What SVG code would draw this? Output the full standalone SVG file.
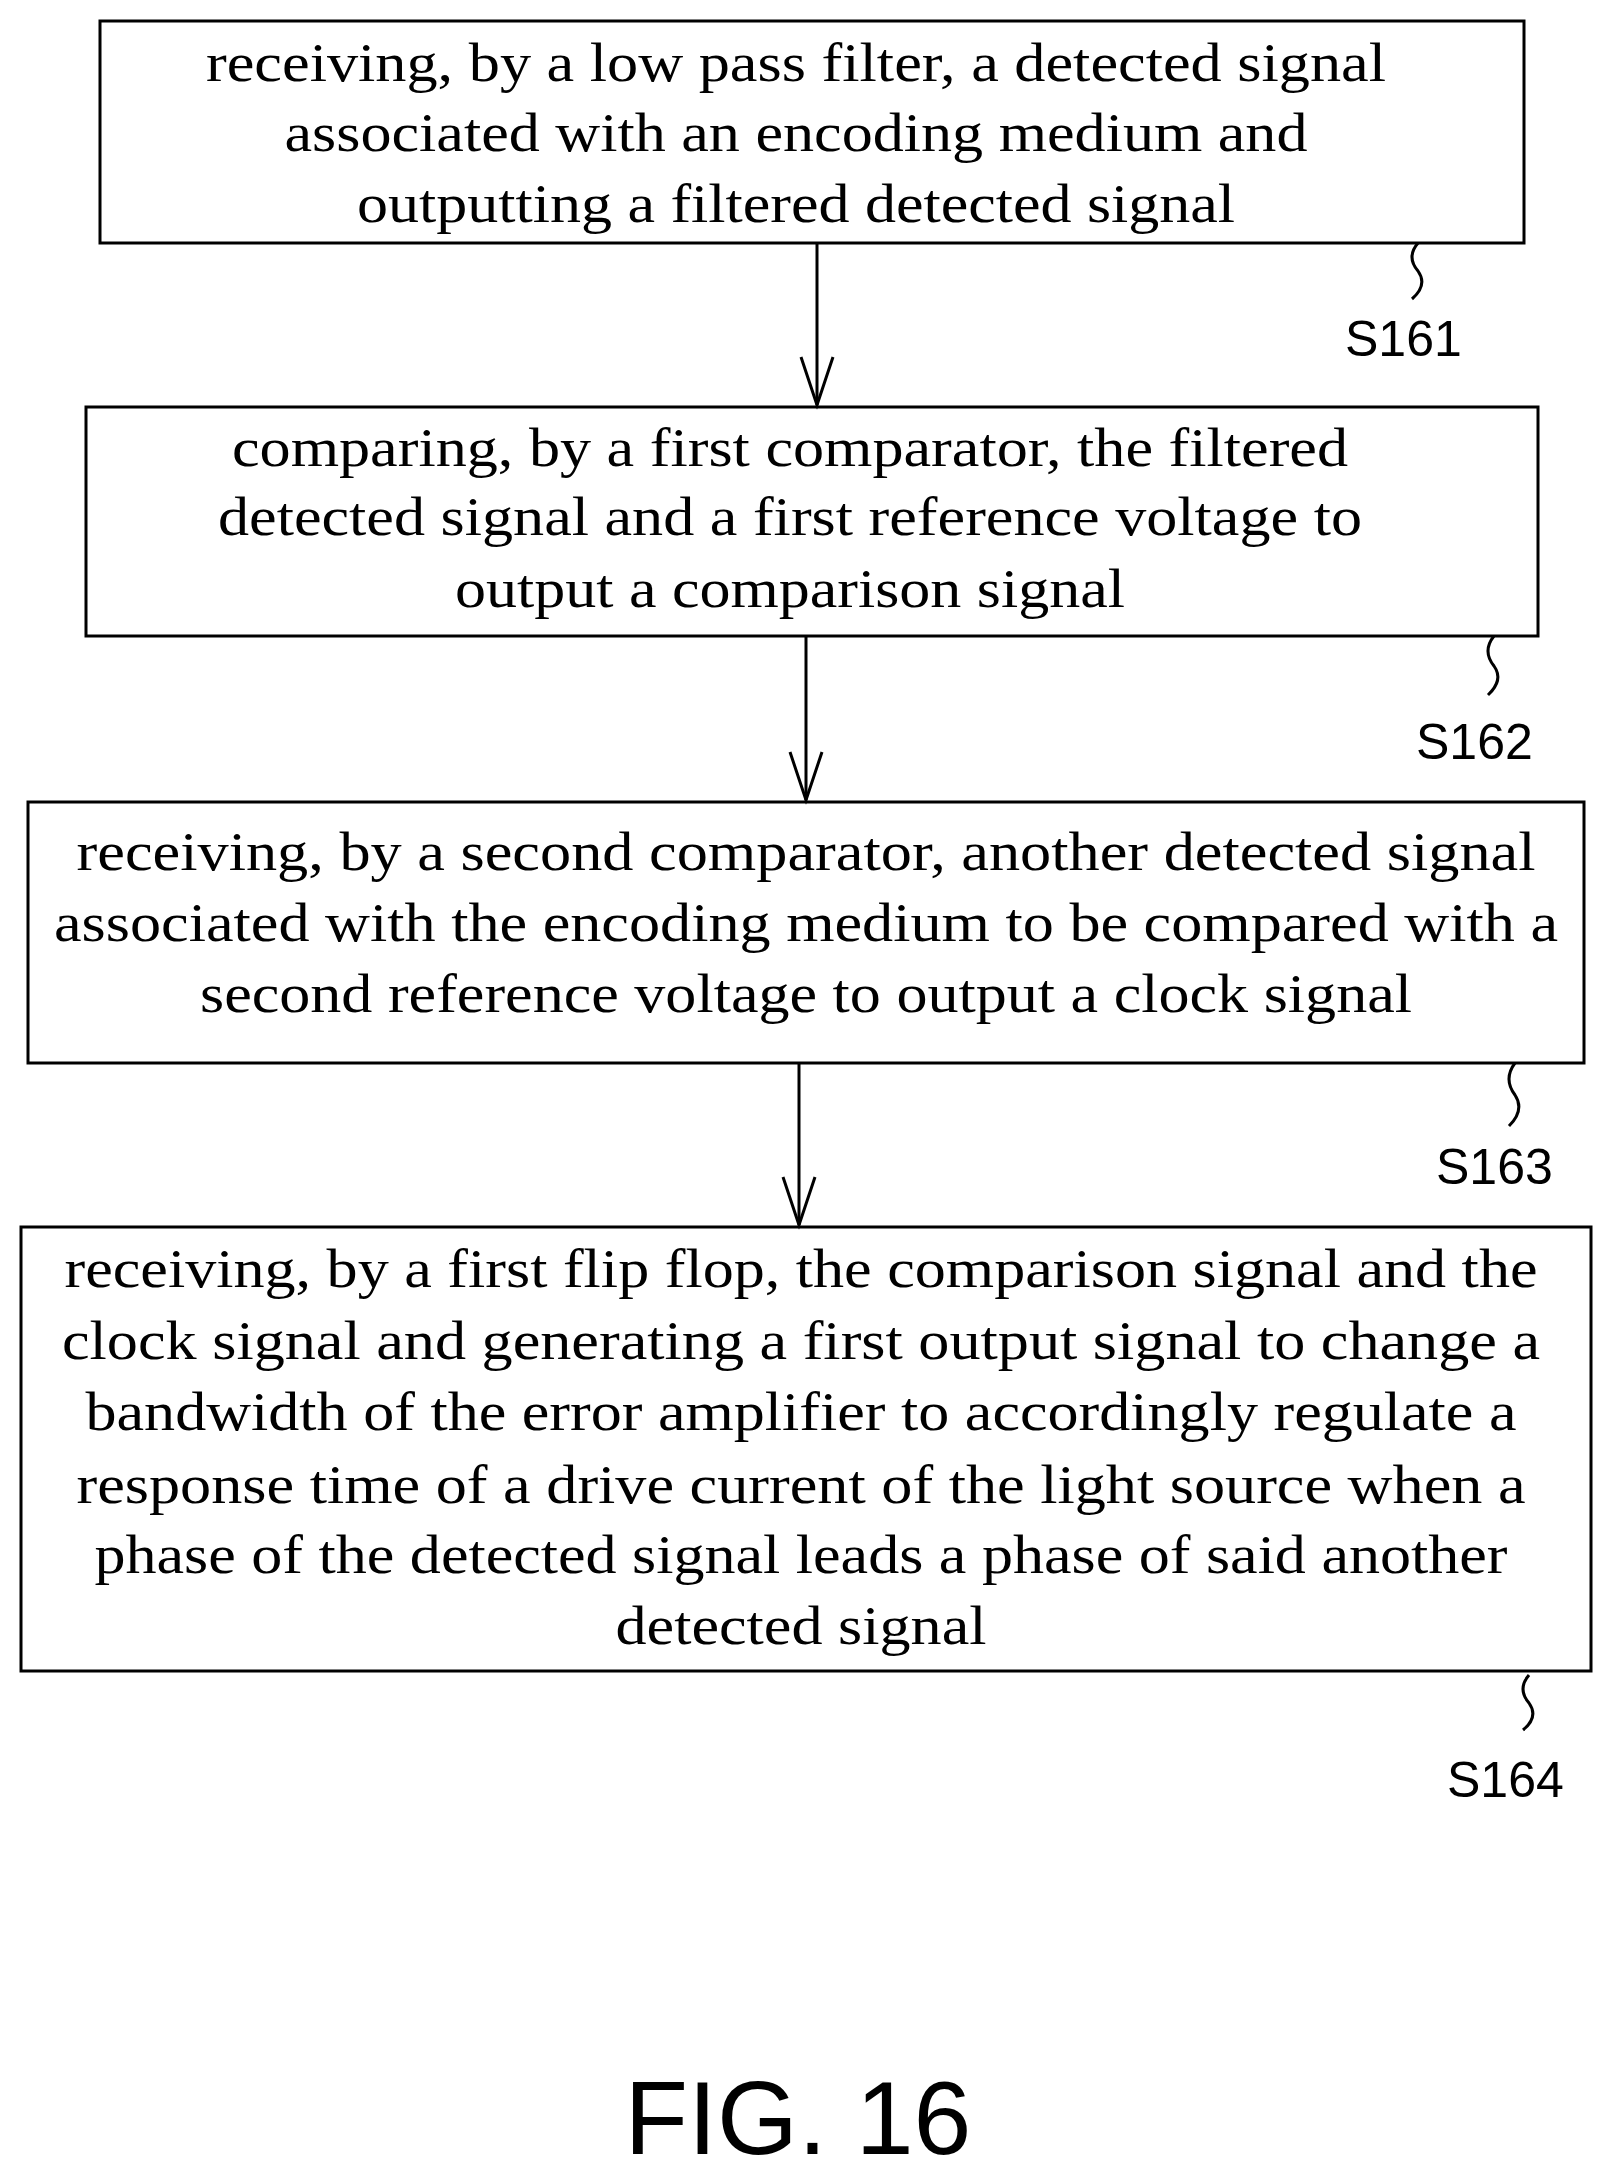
<svg xmlns="http://www.w3.org/2000/svg" width="1612" height="2177" viewBox="0 0 1612 2177">
<style>
rect{fill:#fff;stroke:#000;stroke-width:3}
.t{font-family:"Liberation Serif",serif;font-size:54px;text-anchor:middle;fill:#000}
.l{font-family:"Liberation Sans",sans-serif;font-size:50px;fill:#000}
.c path,.c line{fill:none;stroke:#000;stroke-width:3}
</style>
<rect x="0" y="0" width="1612" height="2177" style="stroke:none"/>
<g id="s161"><rect x="100" y="21" width="1424" height="222"/>
<text class="t" x="796" y="81" textLength="1180" lengthAdjust="spacingAndGlyphs">receiving, by a low pass filter, a detected signal</text>
<text class="t" x="796" y="151" textLength="1023" lengthAdjust="spacingAndGlyphs">associated with an encoding medium and</text>
<text class="t" x="796" y="222" textLength="878" lengthAdjust="spacingAndGlyphs">outputting a filtered detected signal</text>
<text class="l" x="1345" y="356">S161</text></g>
<g id="s162"><rect x="86" y="407" width="1452" height="229"/>
<text class="t" x="790" y="466" textLength="1116" lengthAdjust="spacingAndGlyphs">comparing, by a first comparator, the filtered</text>
<text class="t" x="790" y="535" textLength="1144" lengthAdjust="spacingAndGlyphs">detected signal and a first reference voltage to</text>
<text class="t" x="790" y="607" textLength="670" lengthAdjust="spacingAndGlyphs">output a comparison signal</text>
<text class="l" x="1416" y="759">S162</text></g>
<g id="s163"><rect x="28" y="802" width="1556" height="261"/>
<text class="t" x="806" y="870" textLength="1459" lengthAdjust="spacingAndGlyphs">receiving, by a second comparator, another detected signal</text>
<text class="t" x="806" y="941" textLength="1504" lengthAdjust="spacingAndGlyphs">associated with the encoding medium to be compared with a</text>
<text class="t" x="806" y="1012" textLength="1212" lengthAdjust="spacingAndGlyphs">second reference voltage to output a clock signal</text>
<text class="l" x="1436" y="1184">S163</text></g>
<g id="s164"><rect x="21" y="1227" width="1570" height="444"/>
<text class="t" x="801" y="1287" textLength="1473" lengthAdjust="spacingAndGlyphs">receiving, by a first flip flop, the comparison signal and the</text>
<text class="t" x="801" y="1359" textLength="1478" lengthAdjust="spacingAndGlyphs">clock signal and generating a first output signal to change a</text>
<text class="t" x="801" y="1430" textLength="1431" lengthAdjust="spacingAndGlyphs">bandwidth of the error amplifier to accordingly regulate a</text>
<text class="t" x="801" y="1503" textLength="1449" lengthAdjust="spacingAndGlyphs">response time of a drive current of the light source when a</text>
<text class="t" x="801" y="1573" textLength="1413" lengthAdjust="spacingAndGlyphs">phase of the detected signal leads a phase of said another</text>
<text class="t" x="801" y="1644" textLength="371" lengthAdjust="spacingAndGlyphs">detected signal</text>
<text class="l" x="1447" y="1797">S164</text></g>
<g id="connectors" class="c">
<line x1="817" y1="243" x2="817" y2="405"/><path d="M801 357 L817 405 L833 357"/>
<line x1="806" y1="636" x2="806" y2="800"/><path d="M790 752 L806 800 L822 752"/>
<line x1="799" y1="1063" x2="799" y2="1225"/><path d="M783 1177 L799 1225 L815 1177"/>
<path d="M1418 243 q-12 14 0 28 q10 14 -6 28"/>
<path d="M1494 636 q-12 15 0 30 q10 14 -6 29"/>
<path d="M1515 1063 q-12 16 0 32 q10 15 -6 31"/>
<path d="M1529 1675 q-12 14 0 28 q10 14 -6 27"/>
</g>
<text x="798" y="2154" style="font-family:'Liberation Sans',sans-serif;font-size:104px;text-anchor:middle">FIG. 16</text>
</svg>
